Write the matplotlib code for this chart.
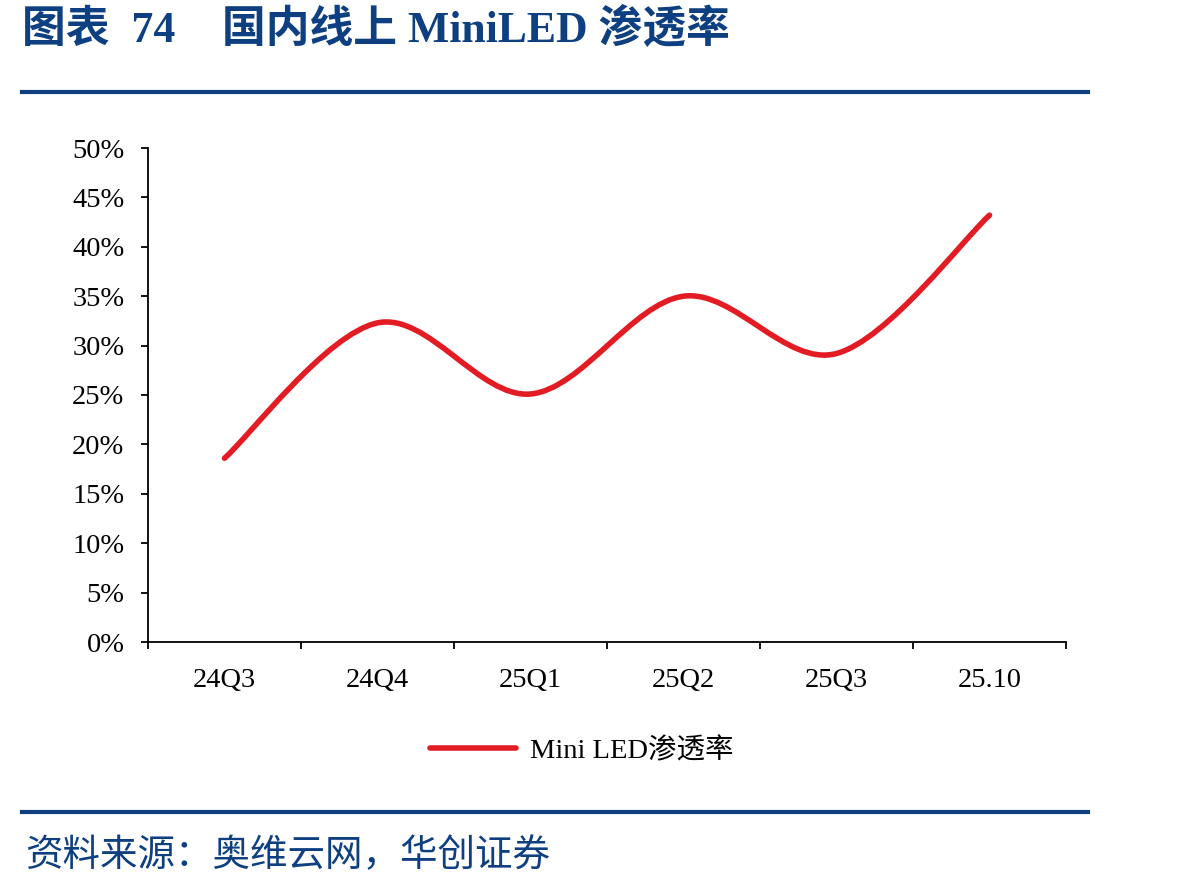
import matplotlib
matplotlib.use("Agg")
import matplotlib.pyplot as plt
from matplotlib.path import Path
from matplotlib.patches import PathPatch
from matplotlib.lines import Line2D
from matplotlib.ticker import FuncFormatter, MultipleLocator, FixedLocator

# data
categories = ["24Q3", "24Q4", "25Q1", "25Q2", "25Q3", "25.10"]
penetration = [0.186, 0.323, 0.251, 0.350, 0.292, 0.432]

title_left = "图表  74"
title_right = "国内线上 MiniLED 渗透率"
series_name = "Mini LED渗透率"
source_text = "资料来源：奥维云网，华创证券"

NAVY = "#0E3F80"
RED = "#E31B23"
FONTS = ["Liberation Serif", "Noto Sans CJK SC"]


def smooth_path(xs, ys):
    """Excel-style smoothed line: cubic Bezier through every point."""
    pts = list(zip(xs, ys))
    ext = [pts[0]] + pts + [pts[-1]]
    verts = [pts[0]]
    codes = [Path.MOVETO]
    for i in range(1, len(ext) - 2):
        p0, p1, p2, p3 = ext[i - 1], ext[i], ext[i + 1], ext[i + 2]
        c1 = (p1[0] + (p2[0] - p0[0]) / 6, p1[1] + (p2[1] - p0[1]) / 6)
        c2 = (p2[0] - (p3[0] - p1[0]) / 6, p2[1] - (p3[1] - p1[1]) / 6)
        verts += [c1, c2, p2]
        codes += [Path.CURVE4] * 3
    return Path(verts, codes)


fig = plt.figure(figsize=(11.98, 8.89), dpi=100)
ax = fig.add_axes([148 / 1198, 1 - 642 / 889, (1066 - 148) / 1198, (642 - 148) / 889])

x = list(range(len(categories)))
patch = PathPatch(smooth_path(x, penetration), fill=False, edgecolor=RED,
                  linewidth=4, capstyle="round", joinstyle="round")
ax.add_patch(patch)

ax.set_xlim(-0.5, len(categories) - 0.5)
ax.set_ylim(0, 0.5)
ax.yaxis.set_major_locator(MultipleLocator(0.05))
ax.yaxis.set_major_formatter(FuncFormatter(lambda v, _: f"{v * 100:.0f}%"))
ax.set_xticks(x)
ax.set_xticklabels(categories)
ax.xaxis.set_minor_locator(FixedLocator([i - 0.5 for i in range(len(categories) + 1)]))

for s in ["top", "right"]:
    ax.spines[s].set_visible(False)
for s in ["left", "bottom"]:
    ax.spines[s].set_linewidth(1.3)
    ax.spines[s].set_color("black")

ax.tick_params(axis="y", direction="out", length=5, width=1.3, pad=12,
               labelsize=20.5)
ax.tick_params(axis="x", which="major", length=0, pad=19, labelsize=20.5)
ax.tick_params(axis="x", which="minor", direction="out", length=5, width=1.3)
for lbl in ax.get_xticklabels() + ax.get_yticklabels():
    lbl.set_family("Liberation Serif")

handle = Line2D([], [], color=RED, linewidth=4, solid_capstyle="round")
fig.legend([handle], [series_name], loc="center",
           bbox_to_anchor=(582 / 1198, 1 - 751 / 889), frameon=False,
           handlelength=3.0, handletextpad=0.5,
           prop={"family": FONTS, "size": 20.5})

# header and footer
fig.text(22 / 1198, 1 - 30 / 889, title_left, color=NAVY, fontsize=31.5,
         fontweight="bold", family=FONTS, va="center", ha="left")
fig.text(222 / 1198, 1 - 30 / 889, title_right, color=NAVY, fontsize=31.5,
         fontweight="bold", family=FONTS, va="center", ha="left")
fig.add_artist(Line2D([22 / 1198, 1088 / 1198], [1 - 92 / 889] * 2,
                      color=NAVY, linewidth=3))
fig.add_artist(Line2D([22 / 1198, 1088 / 1198], [1 - 812 / 889] * 2,
                      color=NAVY, linewidth=3))
fig.text(25 / 1198, 1 - 856 / 889, source_text, color=NAVY, fontsize=27,
         family=FONTS, va="center", ha="left")

fig.savefig("out.png", dpi=100)
